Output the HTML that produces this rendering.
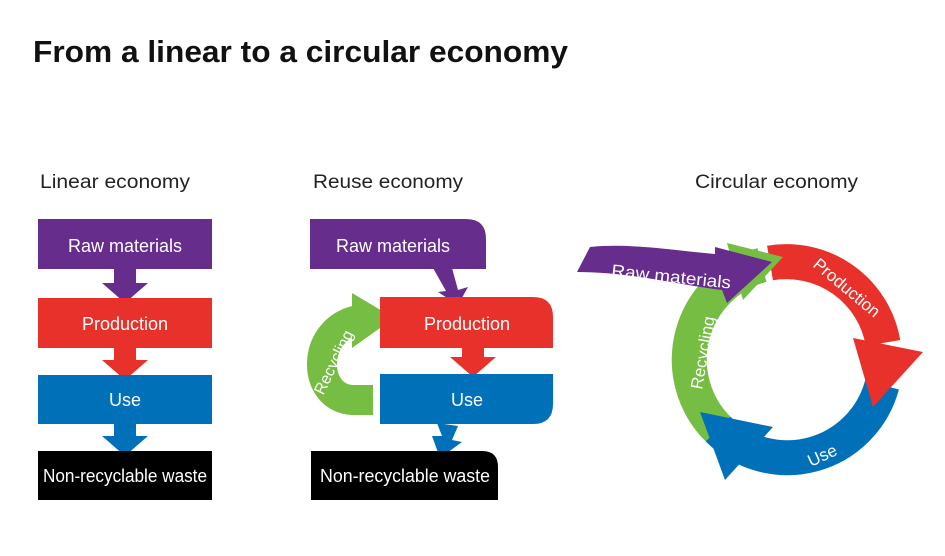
<!DOCTYPE html>
<html><head><meta charset="utf-8"><style>
html,body{margin:0;padding:0;background:#fff;}
svg{display:block;font-family:"Liberation Sans",sans-serif;}
</style></head><body>
<svg width="945" height="556" viewBox="0 0 945 556" xmlns="http://www.w3.org/2000/svg">
<text x="33" y="62" font-size="31" font-weight="bold" fill="#111" textLength="535" lengthAdjust="spacingAndGlyphs">From a linear to a circular economy</text>

<text x="40" y="188" font-size="19" fill="#222" textLength="150" lengthAdjust="spacingAndGlyphs">Linear economy</text>
<text x="313" y="188" font-size="19" fill="#222" textLength="150" lengthAdjust="spacingAndGlyphs">Reuse economy</text>
<text x="695" y="188" font-size="19" fill="#222" textLength="163" lengthAdjust="spacingAndGlyphs">Circular economy</text>

<!-- Linear -->
<g font-size="18" fill="#fff" text-anchor="middle">
<rect x="38" y="219" width="174" height="50" fill="#662d8c"/>
<path d="M114,269 h22 v14 h12 l-23,20 l-23,-20 h12z" fill="#662d8c"/>
<rect x="38" y="298" width="174" height="50" fill="#e8312a"/>
<path d="M114,348 h22 v12 h12 l-23,20 l-23,-20 h12z" fill="#e8312a"/>
<rect x="38" y="375" width="174" height="49" fill="#0070b8"/>
<path d="M114,424 h22 v12 h12 l-23,20 l-23,-20 h12z" fill="#0070b8"/>
<rect x="38" y="451" width="174" height="49" fill="#000"/>
<text x="125" y="252">Raw materials</text>
<text x="125" y="330">Production</text>
<text x="125" y="406">Use</text>
<text x="125" y="482" textLength="164" lengthAdjust="spacingAndGlyphs">Non-recyclable waste</text>
</g>

<!-- Reuse -->
<g font-size="18" fill="#fff" text-anchor="middle">
<path d="M310,219 H466 Q486,219 486,239 V269 H310z" fill="#662d8c"/>
<path d="M433,268 L452,268 L458,290 L468,287 L458,305 L438,292 L446,291z" fill="#662d8c"/>
<path d="M373,400 L352,400 C312,398 310,330 358,320" fill="none" stroke="#76bd43" stroke-width="30"/>
<path d="M352,293 L394,318 L352,348z" fill="#76bd43"/>
<path d="M380,297 H533 Q553,297 553,317 V348 H380z" fill="#e8312a"/>
<path d="M462,347 h22 v10 h12 l-23,20 l-23,-20 h12z" fill="#e8312a"/>
<path d="M380,374 H553 V404 Q553,424 533,424 H380z" fill="#0070b8"/>
<path d="M437,423 L458,426 L452,440 L462,442 L440,458 L432,436 L442,436z" fill="#0070b8"/>
<path d="M311,451 H482 Q498,451 498,467 V500 H311z" fill="#000"/>
<text x="393" y="252">Raw materials</text>
<text x="467" y="330">Production</text>
<text x="467" y="406">Use</text>
<text x="405" y="482" textLength="170" lengthAdjust="spacingAndGlyphs">Non-recyclable waste</text>
<text x="0" y="6" font-size="16" transform="translate(333,362) rotate(-64)">Recycling</text>
</g>

<!-- Circular -->
<g fill="none" stroke-width="35">
<path d="M718,429 A98,98 0 0 1 762,265" stroke="#76bd43"/>
<path d="M882,385 A98,98 0 0 1 718,429" stroke="#0070b8"/>
<path d="M770,263 A98,98 0 0 1 883,343" stroke="#e8312a"/>
</g>
<path d="M700,412 L773,427 L725,480z" fill="#0070b8"/>
<path d="M853,338 L923,352 L873,407z" fill="#e8312a"/>
<path d="M727,243 L783,257 L743,300z" fill="#76bd43"/>
<path d="M590,247 C630,243 670,250 715,254 L715,247 L772,262 L727,303 L722,290 C680,285 630,272 577,272z" fill="#662d8c"/>
<g fill="#fff" font-size="17">
<text x="0" y="0" transform="translate(611,276) rotate(6)" textLength="120" lengthAdjust="spacingAndGlyphs">Raw materials</text>
<text x="0" y="0" transform="translate(812,266) rotate(40)">Production</text>
<text x="0" y="0" transform="translate(702,390) rotate(-80)">Recycling</text>
<text x="0" y="0" transform="translate(811,467) rotate(-25)">Use</text>
</g>
</svg>
</body></html>
